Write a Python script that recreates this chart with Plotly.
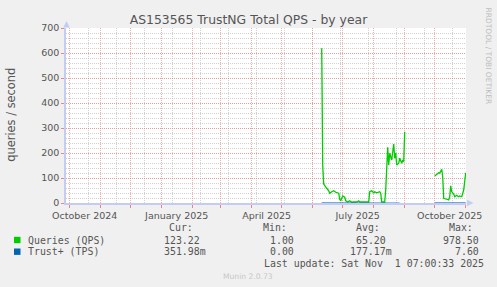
import plotly.graph_objects as go

# ---------------- data ----------------
qps_dates = [
    "2025-06-10", "2025-06-11", "2025-06-12", "2025-06-13", "2025-06-15", "2025-06-17",
    "2025-06-18", "2025-06-20", "2025-06-22", "2025-06-24", "2025-06-27", "2025-06-28",
    "2025-06-29", "2025-07-01", "2025-07-03", "2025-07-04", "2025-07-06", "2025-07-08",
    "2025-07-10", "2025-07-12", "2025-07-15", "2025-07-17", "2025-07-18", "2025-07-27",
    "2025-07-28", "2025-07-30", "2025-08-01", "2025-08-02", "2025-08-04", "2025-08-07",
    "2025-08-08", "2025-08-09", "2025-08-12", "2025-08-13", "2025-08-15", "2025-08-16",
    "2025-08-17", "2025-08-19", "2025-08-21", "2025-08-22", "2025-08-23", "2025-08-24",
    "2025-08-26", "2025-08-27", "2025-08-29", "2025-08-30", "2025-08-31", "2025-09-01",
    "2025-09-15",
    "2025-10-01", "2025-10-03", "2025-10-05", "2025-10-06", "2025-10-08", "2025-10-09",
    "2025-10-10", "2025-10-13", "2025-10-15", "2025-10-16", "2025-10-17", "2025-10-18",
    "2025-10-20", "2025-10-21", "2025-10-23", "2025-10-25", "2025-10-26", "2025-10-28",
    "2025-10-30", "2025-11-01",
]
qps_values = [
    619, 150, 76, 69, 59, 49,
    39, 45, 49, 43, 39, 15,
    9, 28, 23, 9, 4, 9,
    3, 4, 4, 9, 4, 4,
    45, 49, 41, 45, 41, 45,
    39, 4, 4, 52, 223, 152,
    199, 172, 236, 180, 199, 152,
    159, 179, 159, 172, 165, 285,
    None,
    108, 116, 121, 119, 135, 105,
    19, 15, 12, 25, 69, 45,
    36, 25, 31, 25, 28, 25,
    52, 121,
]

tps_dates = [
    "2025-06-10", "2025-06-20", "2025-07-01", "2025-07-15", "2025-08-01",
    "2025-08-15", "2025-08-27", "2025-09-15", "2025-10-01", "2025-10-15", "2025-11-01",
]
tps_values = [0.5, 0.2, 0.1, 0.1, 0.2, 0.3, 0.2, None, 0.4, 0.3, 0.35]

month_starts = [
    "2024-10-01", "2024-11-01", "2024-12-01", "2025-01-01", "2025-02-01", "2025-03-01",
    "2025-04-01", "2025-05-01", "2025-06-01", "2025-07-01", "2025-08-01", "2025-09-01",
    "2025-10-01", "2025-11-01",
]
month_labels = [
    "October 2024", "", "", "January 2025", "", "", "April 2025", "", "",
    "July 2025", "", "", "October 2025", "",
]
y_ticks = [0, 100, 200, 300, 400, 500, 600, 700]

series_names = ["Queries (QPS)", "Trust+ (TPS)"]
series_colors = ["#00cc00", "#0066b3"]
stat_cur = ["123.22", "351.98m"]
stat_min = ["1.00", "0.00"]
stat_avg = ["65.20", "177.17m"]
stat_max = ["978.50", "7.60"]

title_text = "AS153565 TrustNG Total QPS - by year"
y_title = "queries / second"
last_update = "Last update: Sat Nov\u00a0\u00a01 07:00:33 2025"

# ---------------- layout helpers ----------------
W, H = 497, 287
L, R, T, B = 66, 31, 28, 84
PW, PH = W - L - R, H - T - B


def px(x):
    return (x - L) / PW


def py(y):
    return (H - B - y) / PH


MAJOR = "rgba(235,125,125,0.62)"
MINOR = "rgba(185,185,185,0.65)"
DOTS = "1px,1px"
AXIS = "#c4ccf4"
TXT = "#555555"
MONO = "DejaVu Sans Mono"
SANS = "DejaVu Sans"

fig = go.Figure()
fig.add_trace(go.Scatter(x=qps_dates, y=qps_values, mode="lines",
                         line=dict(color=series_colors[0], width=1.3),
                         connectgaps=False, hoverinfo="skip"))
fig.add_trace(go.Scatter(x=tps_dates, y=tps_values, mode="lines",
                         line=dict(color=series_colors[1], width=1.1),
                         connectgaps=False, hoverinfo="skip", opacity=0.75))

ann = []
# y title
ann.append(dict(text=y_title, xref="paper", yref="paper", x=px(10.7), y=py(115),
                textangle=-90, showarrow=False, xanchor="center", yanchor="middle",
                font=dict(family=SANS, size=11.4, color=TXT)))
# rrdtool credit
ann.append(dict(text="RRDTOOL / TOBI OETIKER", xref="paper", yref="paper",
                x=px(488), y=py(5), textangle=90, showarrow=False,
                xanchor="center", yanchor="top",
                font=dict(family=SANS, size=7.5, color="#bdbdbd")))


def mono(text, x, y, color=TXT, size=9.9):
    ann.append(dict(text=text, xref="paper", yref="paper", x=px(x), y=py(y),
                    showarrow=False, xanchor="left", yanchor="middle",
                    font=dict(family=MONO, size=size, color=color)))


mono("Cur:", 166.7, 227.7)
mono("Min:", 261, 227.7)
mono("Avg:", 354, 227.7)
mono("Max:", 446.7, 227.7)
rows_y = [240, 251.7]
avg_x = [354, 348.3]
max_x = [440.7, 453.3]
cur_x = [161.7, 161.7]
min_x = [267.7, 267.7]
shapes = []
for i in range(2):
    yy = rows_y[i]
    mono(series_names[i], 26, yy)
    mono(stat_cur[i], cur_x[i], yy)
    mono(stat_min[i], min_x[i], yy)
    mono(stat_avg[i], avg_x[i], yy)
    mono(stat_max[i], max_x[i], yy)
    shapes.append(dict(type="rect", xref="paper", yref="paper",
                       x0=px(14), x1=px(20.5), y0=py(yy - 3.2), y1=py(yy + 3.2),
                       fillcolor=series_colors[i], line=dict(width=0)))
mono(last_update, 261.7, 263.3)
ann.append(dict(text="Munin 2.0.73", xref="paper", yref="paper", x=px(248), y=py(276),
                showarrow=False, xanchor="center", yanchor="middle",
                font=dict(family=SANS, size=7.6, color="#c8c8c8")))

# axis arrows
shapes.append(dict(type="path", xref="paper", yref="paper",
                   path=f"M {px(63.3)} {py(27.5)} L {px(69.7)} {py(27.5)} L {px(66.5)} {py(21)} Z",
                   fillcolor=AXIS, line=dict(width=0)))
shapes.append(dict(type="path", xref="paper", yref="paper",
                   path=f"M {px(467)} {py(199.8)} L {px(467)} {py(206.2)} L {px(473.5)} {py(203)} Z",
                   fillcolor=AXIS, line=dict(width=0)))

fig.update_layout(
    width=W, height=H,
    margin=dict(l=L, r=R, t=T, b=B, pad=0),
    paper_bgcolor="#f0f0f0",
    plot_bgcolor="#ffffff",
    showlegend=False,
    title=dict(text=title_text, x=0.5, xref="container", xanchor="center",
               y=1 - 19.5 / H, yref="container", yanchor="middle",
               font=dict(family=SANS, size=12.4, color="#555555")),
    annotations=ann,
    shapes=shapes,
    xaxis=dict(
        type="date",
        range=["2024-09-27 07:00", "2025-11-01 07:00"],
        tickmode="array", tickvals=month_starts, ticktext=month_labels,
        ticklabelshift=15,
        ticks="outside", ticklen=3, tickcolor="rgba(235,120,120,0.9)", tickwidth=1,
        showgrid=True, gridcolor=MAJOR, griddash=DOTS, gridwidth=1,
        minor=dict(tick0="2024-10-20", dtick=28 * 86400000, showgrid=True,
                   gridcolor=MINOR, griddash=DOTS, gridwidth=1, ticks=""),
        showline=True, linecolor=AXIS, linewidth=1.5,
        zeroline=False, fixedrange=True,
        tickfont=dict(family=SANS, size=9.5, color=TXT),
    ),
    yaxis=dict(
        range=[0, 700],
        tickmode="array", tickvals=y_ticks,
        ticks="outside", ticklen=3, tickcolor="rgba(235,120,120,0.9)",
        showgrid=True, gridcolor=MAJOR, griddash=DOTS, gridwidth=1,
        minor=dict(dtick=20, showgrid=True, gridcolor=MINOR, griddash=DOTS,
                   gridwidth=1, ticks=""),
        showline=True, linecolor=AXIS, linewidth=1.5,
        zeroline=False, fixedrange=True,
        tickfont=dict(family=SANS, size=9.5, color=TXT),
    ),
)

fig.write_html("out.html", config={"displayModeBar": False})
